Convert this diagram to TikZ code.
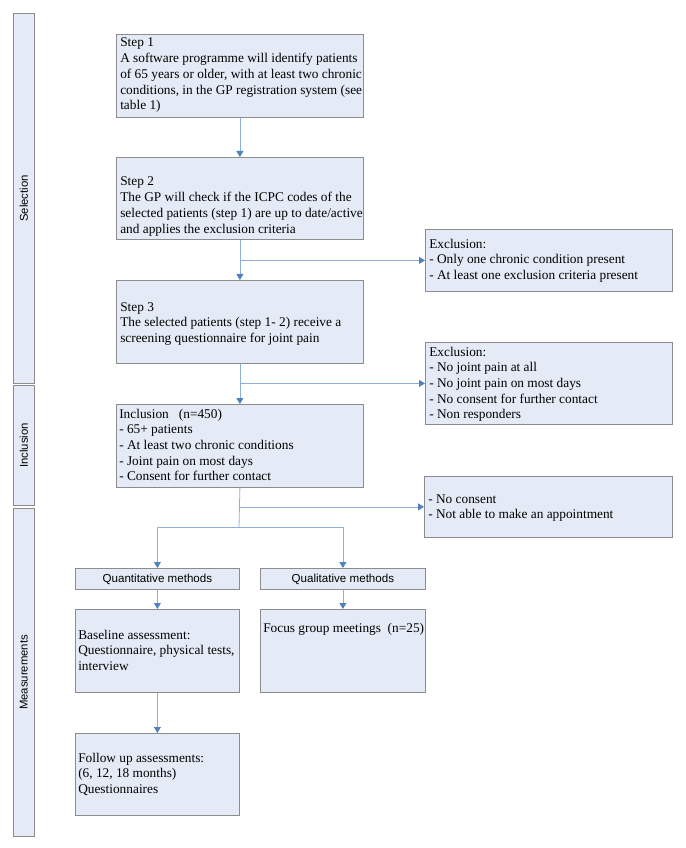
\documentclass[tikz,border=0pt]{standalone}
\usepackage{fontspec}
\setmainfont{Liberation Serif}
\setsansfont{Liberation Sans}
\usetikzlibrary{arrows.meta}
\definecolor{boxfill}{HTML}{E5EBF6}
\definecolor{boxdraw}{HTML}{8C8C8C}
\definecolor{linecol}{HTML}{8FAEDC}
\definecolor{tipcol}{HTML}{4F81BD}
\newcommand{\txtlines}[1]{\fontsize{10}{11.8}\selectfont\begin{tabular}[t]{@{}l@{}}#1\end{tabular}}
\tikzset{
  box/.style={draw=boxdraw, fill=boxfill, line width=0.6pt, inner sep=0pt, anchor=north west},
  txt/.style={anchor=base west, inner sep=0pt},
  side/.style={font=\sffamily\fontsize{8.5}{10}\selectfont, rotate=90, inner sep=0pt},
  meth/.style={font=\sffamily\fontsize{8.7}{10}\selectfont, inner sep=0pt},
  conn/.style={draw=linecol, line width=0.6pt},
  arr/.style={conn, -{Triangle[length=4.5pt,width=5.2pt,color=tipcol,fill=tipcol]}}
}
\begin{document}
\begin{tikzpicture}[x=0.75pt,y=-0.75pt]
\useasboundingbox (0,0) rectangle (685,848);
% sidebar
\node[box, minimum width=15.75pt, minimum height=277.5pt] (selb) at (13,13) {};
\node[box, minimum width=15.75pt, minimum height=90pt] (incb) at (13,385) {};
\node[box, minimum width=15.75pt, minimum height=246pt] (measb) at (13,508) {};
\node[side] (sell) at (selb.center) {Selection};
\node[side] (incl) at (incb.center) {Inclusion};
\node[side] (measl) at (measb.center) {Measurements};
% main boxes
\node[box, minimum width=185.25pt, minimum height=62.25pt] (s1) at (116,34) {};
\node[box, minimum width=185.25pt, minimum height=61.5pt] (s2) at (116,157) {};
\node[box, minimum width=185.25pt, minimum height=62.25pt] (s3) at (116,280) {};
\node[box, minimum width=185.25pt, minimum height=62.25pt] (inc) at (116,404) {};
\node[box, minimum width=185.25pt, minimum height=46.5pt] (ex1) at (425,229) {};
\node[box, minimum width=185.25pt, minimum height=61.5pt] (ex2) at (425,342) {};
\node[box, minimum width=186pt, minimum height=45.75pt] (ex3) at (424,476) {};
\node[box, minimum width=123pt, minimum height=15.75pt] (quant) at (75,568) {};
\node[box, minimum width=123.75pt, minimum height=15.75pt] (qual) at (260,568) {};
\node[box, minimum width=123pt, minimum height=62.25pt] (base) at (75,609) {};
\node[box, minimum width=123.75pt, minimum height=62.25pt] (focus) at (260,609) {};
\node[box, minimum width=123pt, minimum height=61.5pt] (follow) at (75,733) {};
% texts
\node[txt] (s1t) at (120,47) {\txtlines{Step 1\\A software programme will identify patients\\of 65 years or older, with at least two chronic\\conditions, in the GP registration system (see\\table 1)}};
\node[txt] (s2t) at (120,186) {\txtlines{Step 2\\The GP will check if the ICPC codes of the\\selected patients (step 1) are up to date/active\\and applies the exclusion criteria}};
\node[txt] (s3t) at (120,311) {\txtlines{Step 3\\The selected patients (step 1- 2) receive a\\screening questionnaire for joint pain}};
\node[txt] (inct) at (119,418) {\txtlines{Inclusion\ \ \ (n=450)\\- 65+ patients\\- At least two chronic conditions\\- Joint pain on most days\\- Consent for further contact}};
\node[txt] (ex1t) at (429,248) {\txtlines{Exclusion:\\- Only one chronic condition present\\- At least one exclusion criteria present}};
\node[txt] (ex2t) at (429,356) {\txtlines{Exclusion:\\- No joint pain at all\\- No joint pain on most days\\- No consent for further contact\\- Non responders}};
\node[txt] (ex3t) at (428,503) {\txtlines{- No consent\\- Not able to make an appointment}};
\node[meth] (quantt) at (quant.center) {Quantitative methods};
\node[meth] (qualt) at (qual.center) {Qualitative methods};
\node[txt] (baset) at (78,639) {\txtlines{Baseline assessment:\\Questionnaire, physical tests,\\interview}};
\node[txt] (focust) at (263,632) {\txtlines{Focus group meetings\ \ (n=25)}};
\node[txt] (followt) at (78,762) {\txtlines{Follow up assessments:\\(6, 12, 18 months)\\Questionnaires}};
% connectors
\draw[arr] (s1.south) -- (s2.north);
\draw[arr] (s2.south) -- (s3.north);
\coordinate (b1) at (s2.south |- ex1.west);
\draw[arr] (b1) -- (ex1.west);
\draw[arr] (s3.south) -- (inc.north);
\coordinate (b2) at (s3.south |- ex2.west);
\draw[arr] (b2) -- (ex2.west);
\coordinate (sp) at (239,527);
\draw[conn] (inc.south) -- (sp);
\coordinate (b3) at (inc.south |- ex3.west);
\draw[arr] (b3) -- (ex3.west);
\draw[arr] (sp) -| (quant.north);
\draw[arr] (sp) -| (qual.north);
\draw[arr] (quant.south) -- (base.north);
\draw[arr] (qual.south) -- (focus.north);
\draw[arr] (base.south) -- (follow.north);
\end{tikzpicture}
\end{document}
